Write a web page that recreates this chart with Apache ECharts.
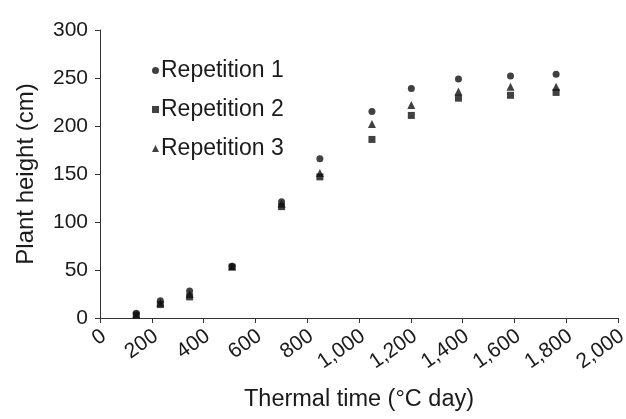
<!DOCTYPE html>
<html>
<head>
<meta charset="utf-8">
<script src="https://cdn.jsdelivr.net/npm/echarts@6/dist/echarts.min.js"></script>
<style>
  html, body { margin: 0; padding: 0; background: #fff; }
  #chart { width: 626px; height: 419px; }
</style>
</head>
<body>
<div id="chart"></div>
<script>
// thermal time (°C day) of each sampling
var thermalTime = [140, 233, 346, 510, 701, 849, 1050, 1202, 1384, 1585, 1761];
// plant height (cm), one array per repetition
var rep1 = [5, 18, 28, 54, 121, 166, 215, 239, 249, 252, 254];
var rep2 = [3, 14, 22, 53, 116, 147, 186, 211, 229, 232, 235];
var rep3 = [4, 16, 25, 54, 119, 151, 202, 222, 236, 241, 241];
var seriesNames = ['Repetition 1', 'Repetition 2', 'Repetition 3'];
var yTicks = [0, 50, 100, 150, 200, 250, 300];

function pairs(ys) {
    var out = [];
    for (var i = 0; i < thermalTime.length; i++) {
        out.push([thermalTime[i], ys[i]]);
    }
    return out;
}

var fontFamily = 'Liberation Sans, Arial, sans-serif';
var ink = '#1a1a1a';

var chart = echarts.init(document.getElementById('chart'));
chart.setOption({
    animation: false,
    textStyle: { fontFamily: fontFamily },
    grid: { left: 100, right: 8, top: 30, bottom: 101, containLabel: false, outerBoundsMode: 'none' },
    legend: {
        orient: 'vertical',
        left: 147,
        top: 54,
        itemWidth: 7,
        itemHeight: 7,
        itemGap: 16,
        data: [
            { name: seriesNames[0], icon: 'circle' },
            { name: seriesNames[1], icon: 'rect' },
            { name: seriesNames[2], icon: 'triangle' }
        ],
        textStyle: { fontSize: 23, color: ink, padding: [0, 0, 0, -3] }
    },
    xAxis: {
        type: 'value',
        min: 0,
        max: 2000,
        interval: 200,
        name: 'Thermal time (°C day)',
        nameLocation: 'middle',
        nameGap: 70,
        nameTextStyle: { fontSize: 23.5, color: ink },
        splitLine: { show: false },
        axisLine: { lineStyle: { color: '#333', width: 1 } },
        axisTick: { show: true, length: 5, lineStyle: { color: '#333' } },
        axisLabel: {
            rotate: 35,
            fontSize: 21,
            color: ink,
            margin: 19,
            padding: [0, -5, 0, 0],
            formatter: function (v) { return v.toLocaleString('en-US'); }
        }
    },
    yAxis: {
        type: 'value',
        min: yTicks[0],
        max: yTicks[yTicks.length - 1],
        interval: yTicks[1] - yTicks[0],
        name: 'Plant height (cm)',
        nameLocation: 'middle',
        nameGap: 62,
        nameTextStyle: { fontSize: 24, color: ink },
        splitLine: { show: false },
        axisLine: { show: true, lineStyle: { color: '#333', width: 1 } },
        axisTick: { show: true, length: 5, lineStyle: { color: '#333' } },
        axisLabel: { fontSize: 21, color: ink, margin: 12 }
    },
    series: [
        { name: seriesNames[0], type: 'scatter', symbol: 'circle', symbolSize: 7,
          itemStyle: { color: '#111' }, data: pairs(rep1) },
        { name: seriesNames[1], type: 'scatter', symbol: 'rect', symbolSize: 7,
          itemStyle: { color: '#111' }, data: pairs(rep2) },
        { name: seriesNames[2], type: 'scatter', symbol: 'triangle', symbolSize: 8,
          itemStyle: { color: '#111' }, data: pairs(rep3) }
    ]
});
</script>
</body>
</html>
